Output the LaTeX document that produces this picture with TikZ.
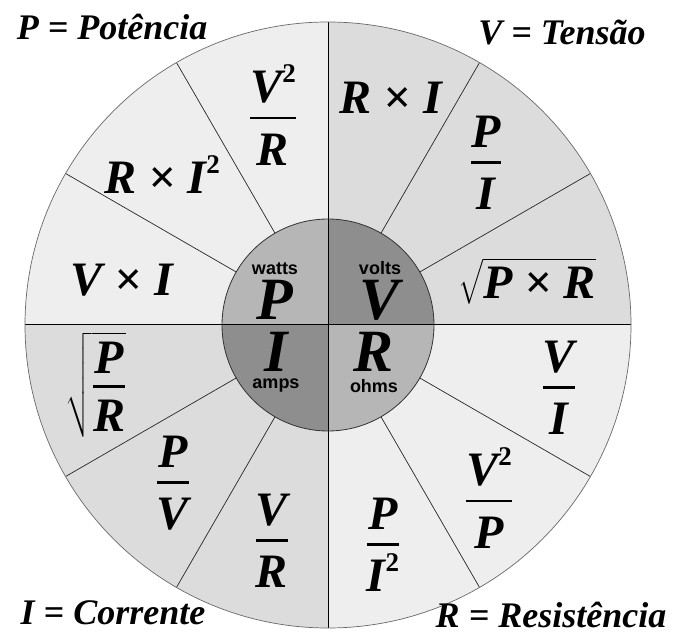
\documentclass[tikz,border=0pt]{standalone}
\usepackage{amsmath}
\usepackage{fontspec}
\setmainfont{Liberation Serif}
\setsansfont{Liberation Sans}
\usetikzlibrary{positioning}
\definecolor{seclight}{RGB}{238,238,238}
\definecolor{secmid}{RGB}{220,220,220}
\definecolor{hubpale}{RGB}{182,182,182}
\definecolor{hubdark}{RGB}{142,142,142}
\definecolor{rimgray}{RGB}{105,105,105}
\newcommand{\fr}[2]{$\genfrac{}{}{2.6pt}{0}{\text{#1\rule[-6pt]{0pt}{1pt}}}{\text{\rule{0pt}{38pt}#2}}$}
\newcommand{\sq}{\raisebox{20pt}{\fontsize{27}{27}\selectfont\upshape 2}}
\tikzset{
  formula/.style={font=\fontsize{48}{50}\selectfont\bfseries\itshape, inner sep=0pt},
  hubletter/.style={font=\fontsize{60}{62}\selectfont\bfseries\itshape, inner sep=0pt},
  unit/.style={font=\sffamily\bfseries\fontsize{18}{20}\selectfont, inner sep=0pt},
  legend/.style={font=\fontsize{36}{38}\selectfont\bfseries\itshape, inner sep=0pt},
  spoke/.style={line width=0.7pt, color=black!85},
  axis/.style={line width=1pt, color=black}
}

\begin{document}
\begin{tikzpicture}[x=1pt, y=1pt]
  \useasboundingbox (0,0) rectangle (675,634);
  \fill[white] (0,0) rectangle (675,634);

  \begin{scope}[shift={(328,309)}]
    % Outer sectors
    \fill[secmid] (0,0) -- (0:303) arc[start angle=0, end angle=90, radius=303] -- cycle;
    \fill[seclight] (0,0) -- (90:303) arc[start angle=90, end angle=180, radius=303] -- cycle;
    \fill[secmid] (0,0) -- (180:303) arc[start angle=180, end angle=270, radius=303] -- cycle;
    \fill[seclight] (0,0) -- (270:303) arc[start angle=270, end angle=360, radius=303] -- cycle;

    % Hub quadrants
    \fill[hubdark] (0,0) -- (0:106) arc[start angle=0, end angle=90, radius=106] -- cycle;
    \fill[hubpale] (0,0) -- (90:106) arc[start angle=90, end angle=180, radius=106] -- cycle;
    \fill[hubdark] (0,0) -- (180:106) arc[start angle=180, end angle=270, radius=106] -- cycle;
    \fill[hubpale] (0,0) -- (270:106) arc[start angle=270, end angle=360, radius=106] -- cycle;

    % Spokes
    \foreach \a in {30,60,120,150,210,240,300,330}
      \draw[spoke] (\a:106) -- (\a:303);
    \draw[axis] (-303,0) -- (303,0);
    \draw[axis] (0,-303) -- (0,303);
    \draw[line width=0.8pt, color=black!80] (0,0) circle (106);
    \draw[line width=0.7pt, color=rimgray] (0,0) circle (303);

    % Power group
    \node[formula] (pvr) at (-55,210) {\fr{V\sq}{R}};
    \node[formula] (pri) at (-166,150) {R × I\sq};
    \node[formula] (pvi) at (-206,45) {V × I};

    % Voltage group
    \node[formula] (vri) at (63,227) {R × I};
    \node[formula] (vpi) at (158,162) {\fr{P}{I}};
    \node[formula] (vpr) at (199,44) {$\sqrt{\text{P × R}}$};

    % Current group
    \node[formula] (ipr) at (-232,-60) {$\sqrt{\genfrac{}{}{2.6pt}{0}{\text{P\rule[-4pt]{0pt}{1pt}}}{\text{\rule{0pt}{36pt}R}}}$};
    \node[formula] (ipv) at (-155,-158) {\fr{P}{V}};
    \node[formula] (ivr) at (-56,-216) {\fr{V}{R}};

    % Resistance group
    \node[formula] (rpi) at (55,-220) {\fr{P}{I\sq}};
    \node[formula] (rvp) at (161,-173) {\fr{V\sq}{P}};
    \node[formula] (rvi) at (231,-63) {\fr{V}{I}};

    % Hub
    \node[hubletter] (hp) at (-53,25) {P};
    \node[unit, above=5pt of hp] (hpu) {watts};
    \node[hubletter] (hv) at (52,25) {V};
    \node[unit, above=5pt of hv] (hvu) {volts};
    \node[hubletter] (hi) at (-52,-27) {I};
    \node[unit, below=7pt of hi] (hiu) {amps};
    \node[hubletter] (hr) at (46,-27) {R};
    \node[unit, below=7pt of hr] (hru) {ohms};

    % Legends
    \node[legend] (lp) at (-216,298) {P = Potência};
    \node[legend] (lv) at (234,292) {V = Tensão};
    \node[legend] (li) at (-215,-288) {I = Corrente};
    \node[legend] (lr) at (223,-290) {R = Resistência};
  \end{scope}
\end{tikzpicture}
\end{document}
